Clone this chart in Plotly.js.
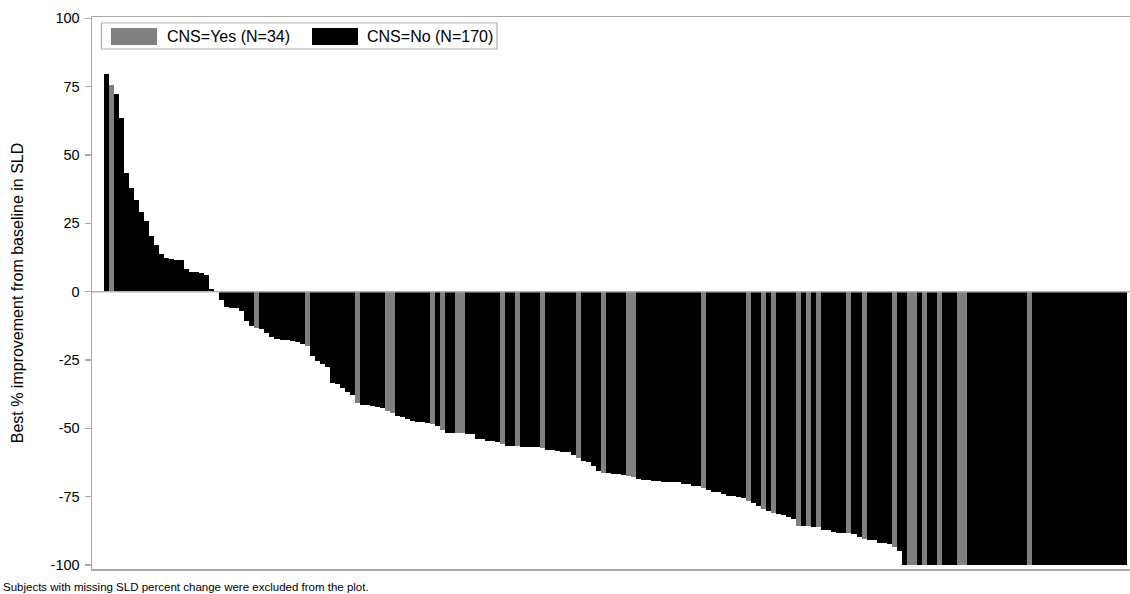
<!DOCTYPE html>
<html>
<head>
<meta charset="utf-8">
<script src="https://cdn.plot.ly/plotly-3.0.1.min.js"></script>
<style>
html, body { margin: 0; padding: 0; overflow: hidden; background: #fff; }
#chart { width: 1145px; height: 594px; }
</style>
</head>
<body>
<div id="chart"></div>
<script>
// Best % improvement from baseline in SLD, one value per subject (sorted waterfall order)
const bestPctChange = [
  79.5, 75.5, 72.5, 63.5, 43.3, 37.8, 33.5, 29.2, 25.9, 20.5,
  17.0, 13.9, 12.4, 11.9, 11.5, 11.4, 8.4, 7.3, 7.2, 7.0,
  6.0, 1.1, 0.0, -3.0, -5.5, -6.0, -6.0, -7.0, -10.8, -12.7,
  -13.2, -13.6, -15.2, -16.6, -17.2, -17.8, -17.8, -18.0, -18.4, -19.0,
  -20.0, -23.4, -25.2, -26.4, -27.4, -33.3, -33.8, -35.3, -36.8, -37.8,
  -40.7, -41.5, -41.5, -42.0, -42.2, -42.7, -43.5, -44.5, -45.6, -46.0,
  -46.6, -47.2, -47.8, -47.8, -48.0, -48.4, -49.0, -50.5, -51.7, -51.7,
  -51.7, -51.7, -52.0, -52.0, -53.9, -53.9, -54.5, -54.5, -55.2, -55.6,
  -56.4, -56.6, -56.6, -56.8, -56.8, -56.8, -57.0, -57.4, -57.8, -58.0,
  -58.2, -58.5, -58.8, -59.7, -61.0, -61.9, -62.5, -63.7, -65.6, -66.2,
  -66.2, -66.8, -66.8, -67.2, -67.5, -68.0, -68.4, -68.9, -68.9, -69.3,
  -69.3, -69.6, -69.6, -69.8, -69.8, -70.5, -70.5, -71.1, -71.1, -71.9,
  -72.7, -73.2, -73.2, -73.9, -74.8, -74.8, -75.3, -75.5, -76.6, -77.5,
  -78.4, -79.6, -80.3, -80.9, -81.2, -81.7, -82.4, -83.3, -85.7, -85.7,
  -85.7, -86.0, -86.0, -87.2, -87.2, -88.0, -88.2, -88.2, -88.2, -88.8,
  -89.7, -90.4, -91.0, -91.0, -91.9, -91.9, -92.5, -93.5, -94.9, -100,
  -100, -100, -100, -100, -100, -100, -100, -100, -100, -100,
  -100, -100, -100, -100, -100, -100, -100, -100, -100, -100,
  -100, -100, -100, -100, -100, -100, -100, -100, -100, -100,
  -100, -100, -100, -100, -100, -100, -100, -100, -100, -100,
  -100, -100, -100, -100
];
// CNS metastases at baseline for each subject, same order (Y = Yes, N = No)
const cnsStatus = [
  'N','Y','N','N','N','N','N','N','N','N',
  'N','N','N','N','N','N','N','N','N','N',
  'N','N','N','N','N','N','N','N','N','N',
  'Y','N','N','N','N','N','N','N','N','N',
  'Y','N','N','N','N','N','N','N','N','N',
  'Y','N','N','N','N','N','Y','Y','N','N',
  'N','N','N','N','N','Y','N','Y','N','N',
  'Y','Y','N','N','N','N','N','N','N','Y',
  'N','N','Y','N','N','N','N','Y','N','N',
  'N','N','N','N','Y','N','N','N','N','Y',
  'N','N','N','N','Y','Y','N','N','N','N',
  'N','N','N','N','N','N','N','N','N','Y',
  'N','N','N','N','N','N','N','N','Y','N',
  'N','Y','N','Y','N','N','N','N','Y','N',
  'Y','N','Y','N','N','N','N','N','Y','N',
  'N','Y','N','N','N','N','N','Y','N','N',
  'Y','Y','N','Y','N','N','Y','N','N','N',
  'Y','Y','N','N','N','N','N','N','N','N',
  'N','N','N','N','Y','N','N','N','N','N',
  'N','N','N','N','N','N','N','N','N','N',
  'N','N','N','N'
];
const groupLabels = { Y: 'CNS=Yes', N: 'CNS=No' };
const groupColors = { Y: '#808080', N: '#000000' };
const yTicks = [100, 75, 50, 25, 0, -25, -50, -75, -100];
const yTitle = 'Best % improvement from baseline in SLD';
const footnote = 'Subjects with missing SLD percent change were excluded from the plot.';

const FIG_W = 1145, FIG_H = 594;
const M = { l: 92, r: 0, t: 17, b: 25 };
const PW = FIG_W - M.l - M.r, PH = FIG_H - M.t - M.b;
const px = x => (x - M.l) / PW;
const py = y => (FIG_H - M.b - y) / PH;

function traceFor(flag) {
  const xs = [], ys = [];
  bestPctChange.forEach((v, i) => { if (cnsStatus[i] === flag) { xs.push(i); ys.push(v); } });
  return {
    type: 'bar', x: xs, y: ys, width: 1,
    name: groupLabels[flag] + ' (N=' + xs.length + ')',
    marker: { color: groupColors[flag], line: { width: 0 } },
    hoverinfo: 'skip', showlegend: false
  };
}
const traces = [traceFor('Y'), traceFor('N')];

const font = { family: 'Liberation Sans, Arial, sans-serif', color: '#000' };
const layout = {
  width: FIG_W, height: FIG_H,
  margin: M,
  paper_bgcolor: '#fff', plot_bgcolor: '#fff',
  barmode: 'overlay', bargap: 0,
  font: font,
  xaxis: {
    range: [-2.87, 207.0], showticklabels: false, ticks: '', showgrid: false, zeroline: false,
    showline: true, mirror: true, linecolor: '#a8a8a8', linewidth: 1.5, fixedrange: true
  },
  yaxis: {
    range: [-101.5, 100.5], tickvals: yTicks, ticktext: yTicks.map(String),
    ticks: 'outside', ticklen: 6, tickwidth: 1.5, tickcolor: '#a8a8a8',
    ticklabelstandoff: 2,
    tickfont: { family: font.family, size: 14.5, color: '#000' },
    showgrid: false, zeroline: false,
    showline: true, mirror: true, linecolor: '#a8a8a8', linewidth: 1.5,
    title: { text: yTitle, font: { family: font.family, size: 16, color: '#000' }, standoff: 23 },
    fixedrange: true
  },
  shapes: [
    { type: 'line', xref: 'paper', yref: 'y', x0: 0, x1: 1, y0: 0, y1: 0,
      line: { color: '#b4b4b4', width: 1.5 }, layer: 'above' },
    { type: 'rect', xref: 'paper', yref: 'paper', x0: px(101.5), x1: px(497), y0: py(23), y1: py(49),
      line: { color: '#b0b0b0', width: 1.2 }, fillcolor: '#fff', layer: 'above' },
    { type: 'rect', xref: 'paper', yref: 'paper', x0: px(111), x1: px(157), y0: py(28), y1: py(45),
      line: { width: 0 }, fillcolor: groupColors.Y, layer: 'above' },
    { type: 'rect', xref: 'paper', yref: 'paper', x0: px(312), x1: px(358), y0: py(28), y1: py(45),
      line: { width: 0 }, fillcolor: groupColors.N, layer: 'above' }
  ],
  annotations: [
    { xref: 'paper', yref: 'paper', x: px(165), y: py(36.5), xanchor: 'left', yanchor: 'middle',
      text: traces[0].name, showarrow: false, font: { family: font.family, size: 16, color: '#000' } },
    { xref: 'paper', yref: 'paper', x: px(365), y: py(36.5), xanchor: 'left', yanchor: 'middle',
      text: traces[1].name, showarrow: false, font: { family: font.family, size: 16, color: '#000' } },
    { xref: 'paper', yref: 'paper', x: px(1), y: py(586.5), xanchor: 'left', yanchor: 'middle',
      text: footnote, showarrow: false, font: { family: font.family, size: 11.5, color: '#000' } }
  ]
};

Plotly.newPlot('chart', traces, layout, { displayModeBar: false, staticPlot: true });
</script>
</body>
</html>
